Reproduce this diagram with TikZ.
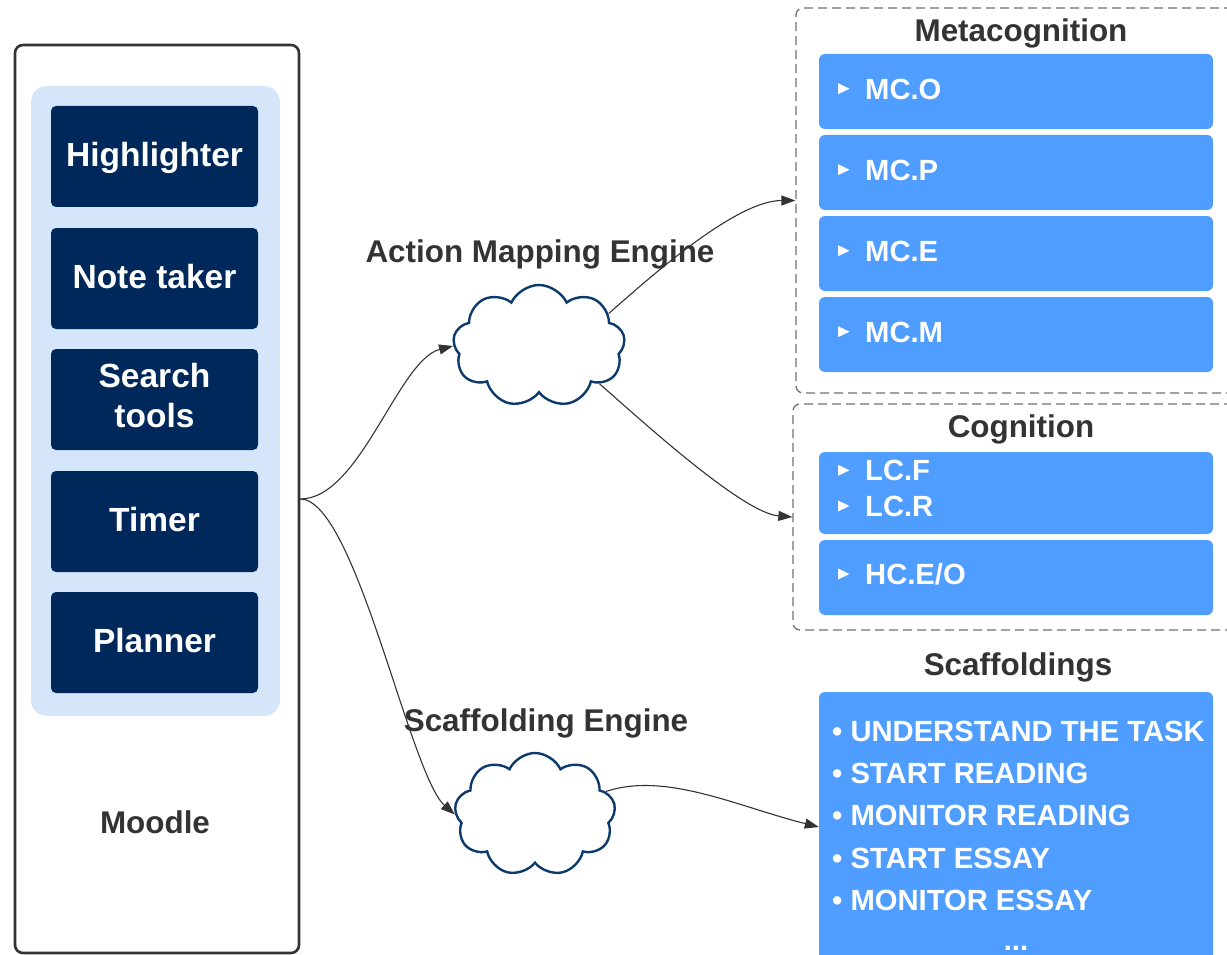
\documentclass[tikz,border=0pt]{standalone}
\usepackage{fontspec}
\setmainfont{Liberation Sans}
\usetikzlibrary{shapes.symbols,arrows.meta}
\definecolor{navy}{HTML}{00285A}
\definecolor{panel}{HTML}{D5E6FB}
\definecolor{itemblue}{HTML}{4F9EFF}
\definecolor{ink}{HTML}{333333}
\definecolor{cloudline}{HTML}{0D3A6C}
\definecolor{dashgray}{HTML}{707070}
\newcommand{\bullettri}[1]{\fill[white] ([shift={(-27,5.5)}]#1.west) -- ++(0,-11) -- ++(11.5,5.5) -- cycle;}
\begin{document}
\begin{tikzpicture}[x=1pt,y=1pt,
  tool/.style={fill=navy, rounded corners=5pt, minimum width=207pt, minimum height=101pt,
    inner sep=0pt, text=white, align=center, font=\bfseries\fontsize{33.5}{40}\selectfont},
  oneline/.style={text height=24pt, text depth=4pt},
  title/.style={inner sep=0pt, text=ink, font=\bfseries\fontsize{31.4}{37}\selectfont,
    text height=22.5pt, text depth=0pt},
  itembox/.style={fill=itemblue, rounded corners=6pt, minimum width=394pt, inner sep=0pt},
  item/.style={anchor=west, inner sep=0pt, text=white, font=\bfseries\fontsize{29.2}{35}\selectfont,
    text height=20.9pt, text depth=0pt},
  group/.style={draw=dashgray, line width=1.3pt, dash pattern=on 9pt off 5pt, rounded corners=7pt, inner sep=0pt},
  engine/.style={cloud, cloud puffs=9, cloud puff arc=130, cloud ignores aspect, draw=cloudline,
    line width=2.4pt, fill=white, inner sep=0pt},
  conn/.style={draw=ink, line width=1.1pt, -{Triangle[length=14pt,width=10pt]}},
]
\useasboundingbox (0,0) rectangle (1227,-955);
\clip (0,0) rectangle (1227,-955);

% Moodle container and its tools
\node[draw=ink, line width=2.6pt, rounded corners=8pt, minimum width=284pt, minimum height=908pt, inner sep=0pt]
  (moodle) at (157,-499) {};
\node[fill=panel, rounded corners=16pt, minimum width=249pt, minimum height=630pt, inner sep=0pt]
  (panel) at (155.5,-401) {};
\node[tool, oneline] (hl) at (154.5,-156.5) {Highlighter};
\node[tool, oneline] (nt) at (154.5,-278.5) {Note taker};
\node[tool] (st) at (154.5,-399.5) {};
\node[inner sep=0pt, text=white, align=center, font=\bfseries\fontsize{33.5}{40}\selectfont]
  (sttext) at (154.5,-396) {Search\\tools};
\node[tool, oneline] (tm) at (154.5,-521.5) {Timer};
\node[tool, oneline] (pl) at (154.5,-642.5) {Planner};
\node[title] (mdl) at (155,-822.5) {Moodle};

% Engines
\node[engine, minimum width=172pt, minimum height=122pt] (amc) at (539,-346) {};
\node[engine, minimum width=161pt, minimum height=123pt] (sec) at (535,-814.5) {};
\node[title] (amt) at (540,-251) {Action Mapping Engine};
\node[title] (set) at (546,-720) {Scaffolding Engine};

% Metacognition group
\node[group, minimum width=444pt, minimum height=385pt] (meta) at (1018,-200.5) {};
\node[title] (metat) at (1021,-30) {Metacognition};
\node[itembox, minimum height=75pt] (mco) at (1016,-91.5) {};
\node[itembox, minimum height=75pt] (mcp) at (1016,-172.5) {};
\node[itembox, minimum height=75pt] (mce) at (1016,-253.5) {};
\node[itembox, minimum height=75pt] (mcm) at (1016,-334.5) {};
\node[item] (mcot) at (865,-88.7) {MC.O};
\node[item] (mcpt) at (865,-169.7) {MC.P};
\node[item] (mcet) at (865,-250.7) {MC.E};
\node[item] (mcmt) at (865,-331.7) {MC.M};
\bullettri{mcot}
\bullettri{mcpt}
\bullettri{mcet}
\bullettri{mcmt}

% Cognition group
\node[group, minimum width=447pt, minimum height=226pt] (cog) at (1016.5,-517) {};
\node[title] (cogt) at (1021,-426.7) {Cognition};
\node[itembox, minimum height=82pt] (lc) at (1016,-493) {};
\node[itembox, minimum height=75pt] (hc) at (1016,-577.5) {};
\node[item] (lcft) at (865,-470.3) {LC.F};
\node[item] (lcrt) at (865,-506) {LC.R};
\node[item] (hct) at (865,-574) {HC.E/O};
\bullettri{lcft}
\bullettri{lcrt}
\bullettri{hct}

% Scaffoldings
\node[title] (scft) at (1018,-664) {Scaffoldings};
\node[itembox, minimum height=270pt] (scf) at (1016,-827) {};
\node[item] (s1) at (832,-731) {• UNDERSTAND THE TASK};
\node[item] (s2) at (832,-773) {• START READING};
\node[item] (s3) at (832,-815) {• MONITOR READING};
\node[item] (s4) at (832,-858) {• START ESSAY};
\node[item] (s5) at (832,-900) {• MONITOR ESSAY};
\node[anchor=base, inner sep=0pt, text=white, font=\bfseries\fontsize{29.2}{35}\selectfont]
  (s6) at (1016,-950) {...};

% Connectors
\draw[conn] (moodle.east) .. controls +(60,0) and +(-55,-14) .. (amc.west);
\draw[conn] (moodle.east) .. controls +(55,0) and +(-45,40) .. (sec.west);
\draw[conn] (amc.25) .. controls +(40,35) and +(-60,0) .. (meta.west);
\draw[conn] (amc.-32) .. controls +(40,-35) and +(-50,4) .. (cog.west);
\draw[conn] (sec.18) .. controls +(60,20) and +(-80,20) .. (scf.west);
\end{tikzpicture}
\end{document}
